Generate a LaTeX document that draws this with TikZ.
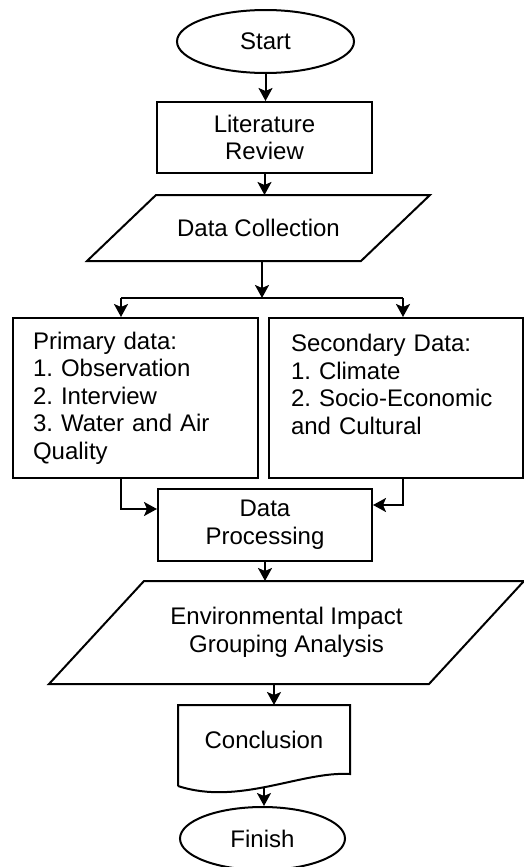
\documentclass[tikz,border=0pt]{standalone}
\usepackage{fontspec}
\setmainfont{Liberation Sans}
\usetikzlibrary{shapes.geometric,arrows.meta}

\begin{document}
\frenchspacing
\begin{tikzpicture}[x=0.5pt,y=-0.5pt,line width=1pt,
    every node/.style={font=\fontsize{12}{13.8}\selectfont},
    term/.style={draw,ellipse,inner sep=0pt},
    proc/.style={draw,rectangle,align=center,inner sep=0pt},
    listbox/.style={draw,rectangle,align=left,minimum height=80pt},
    io/.style={rectangle,align=center,inner sep=0pt},
    arr/.style={-{Stealth[length=6.5pt,width=7pt,inset=1.5pt]}}]

    \useasboundingbox (0,0) rectangle (524,867);

    \node[term, minimum width=88.5pt, minimum height=31.5pt] (start) at (265.5,41.5) {Start};
    \node[proc, minimum width=107.5pt, minimum height=35.5pt] (review) at (264.5,137.5) {Literature\\Review};
    \node[io, minimum width=170.5pt, minimum height=32pt] (collect) at (258.5,228) {Data Collection};

    \node[listbox, text width=102.5pt, inner xsep=10pt] (primary) at (135.5,398)
        {Primary data:\\1. Observation\\2. Interview\\3. Water and Air\\Quality};
    \node[listbox, text width=105pt, inner xsep=11pt] (secondary) at (396,398)
        {Secondary Data:\\1. Climate\\2. Socio-Economic\\and Cultural\\\mbox{}};

    \node[proc, minimum width=107pt, minimum height=36pt] (process) at (265,525) {Data\\Processing};
    \node[io, minimum width=236.5pt, minimum height=50.5pt] (impact) at (286.5,632.5)
        {Environmental Impact\\Grouping Analysis};
    \node[io, minimum width=85pt, minimum height=33.5pt] (concl) at (264,739.5) {Conclusion};
    \node[term, minimum width=82.5pt, minimum height=31.5pt] (finish) at (262.5,838.5) {Finish};

    % parallelograms and document shape
    \draw ([xshift=34.5pt]collect.north west) -- (collect.north east)
        -- ([xshift=-34.5pt]collect.south east) -- (collect.south west) -- cycle;
    \draw ([xshift=47.5pt]impact.north west) -- (impact.north east)
        -- ([xshift=-47.5pt]impact.south east) -- (impact.south west) -- cycle;
    \draw ([yshift=-6pt]concl.south west) -- (concl.north west) -- (concl.north east) -- (concl.south east)
        .. controls ([xshift=-24.5pt,yshift=1.5pt]concl.south east) and ([xshift=30.5pt,yshift=-16pt]concl.south west)
        .. ([yshift=-6pt]concl.south west);

    \coordinate (split) at (262,298);
    \coordinate (splitL) at (121,298);
    \coordinate (splitR) at (403,298);

    \draw[arr] (start.south) -- (start.south |- review.north);
    \draw[arr] (review.south) -- (review.south |- collect.north);
    \draw[arr] (split |- collect.south) -- (split);
    \draw (splitL) -- (splitR);
    \draw[arr] (splitL) -- (splitL |- primary.north);
    \draw[arr] (splitR) -- (splitR |- secondary.north);

    \draw[arr] (splitL |- primary.south) |- ([yshift=8pt]process.west);
    \draw[arr] (splitR |- secondary.south) |- ([yshift=10pt]process.east);
    \draw[arr] (process.south) -- (process.south |- impact.north);
    \draw[arr] ([xshift=5pt]concl.north |- impact.south) -- ([xshift=5pt]concl.north);
    \draw[arr] ([yshift=-7pt]concl.south) -- (concl.south |- finish.north);

\end{tikzpicture}
\end{document}
